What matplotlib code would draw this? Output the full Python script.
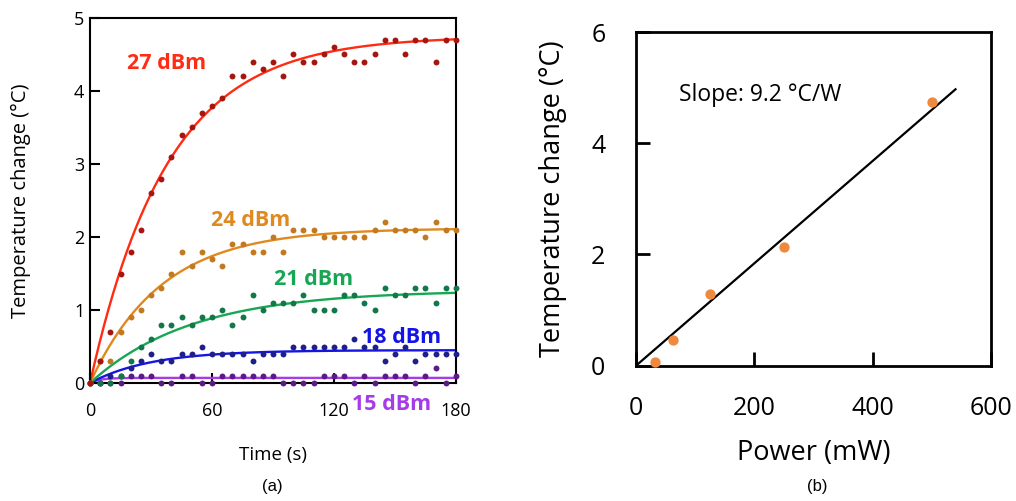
import numpy as np
import matplotlib
matplotlib.use("Agg")
import matplotlib.pyplot as plt

plt.rcParams['font.family'] = ['Open Sans', 'DejaVu Sans']

# ---- panel (a): temperature change vs time, sampled every 5 s ----
time_s = list(range(0, 181, 5))

temp_27 = [0, 0.3, 0.7, 1.5, 1.8, 2.1, 2.6, 2.8, 3.1, 3.4, 3.5, 3.7, 3.8, 3.9, 4.2, 4.2,
           4.4, 4.3, 4.4, 4.2, 4.5, 4.4, 4.4, 4.5, 4.6, 4.5, 4.4, 4.4, 4.5, 4.7, 4.7,
           4.5, 4.7, 4.7, 4.4, 4.7, 4.7]
temp_24 = [0, 0.3, 0.3, 0.7, 0.9, 1.0, 1.2, 1.3, 1.5, 1.8, 1.6, 1.8, 1.7, 1.6, 1.9, 1.9,
           1.8, 1.8, 2.0, 1.8, 2.1, 2.1, 2.1, 2.0, 2.0, 2.0, 2.0, 2.0, 2.1, 2.2, 2.1,
           2.1, 2.1, 2.0, 2.2, 2.1, 2.1]
temp_21 = [0, 0, 0, 0.1, 0.3, 0.5, 0.6, 0.8, 0.8, 0.9, 0.8, 0.9, 0.9, 1.0, 0.8, 0.9,
           1.2, 1.0, 1.1, 1.1, 1.1, 1.2, 1.0, 1.0, 1.0, 1.2, 1.2, 1.1, 1.0, 1.3, 1.2,
           1.2, 1.3, 1.3, 1.1, 1.3, 1.3]
temp_18 = [0, 0, 0.1, 0.1, 0.2, 0.3, 0.4, 0.3, 0.3, 0.4, 0.4, 0.5, 0.4, 0.4, 0.4, 0.4,
           0.3, 0.4, 0.4, 0.4, 0.5, 0.5, 0.5, 0.5, 0.5, 0.5, 0.6, 0.5, 0.5, 0.3, 0.4,
           0.5, 0.3, 0.4, 0.4, 0.4, 0.4]
temp_15 = [0, 0, 0, 0, 0.1, 0.1, 0.1, 0, 0, 0.1, 0.1, 0, 0, 0.1, 0.1, 0.1,
           0.1, 0.1, 0.1, 0, 0, 0, 0, 0.1, 0.1, 0.1, 0, 0.1, 0, 0.1, 0.1,
           0.1, 0, 0.1, 0.2, 0, 0.1]

# exponential fits: amplitude (degC) and time constant (s)
labels = ['15 dBm', '18 dBm', '21 dBm', '24 dBm', '27 dBm']
fit_amp = [0.07, 0.45, 1.27, 2.12, 4.75]
fit_tau = [5, 30, 50, 35, 38]

# ---- panel (b): temperature change vs power ----
power_mw = [32, 63, 125, 250, 500]
temp_b = [0.07, 0.46, 1.28, 2.13, 4.74]
fit_power = [0, 540]
fit_temp = [0, 4.97]

series = [temp_15, temp_18, temp_21, temp_24, temp_27]
line_colors = ['#A63CE8', '#1414E6', '#17A653', '#E0891E', '#FF2B12']
dot_colors = ['#5B1A86', '#1F1F8C', '#14774A', '#C27A22', '#A4160F']
label_pos = [(129, -0.30), (134, 0.63), (90.7, 1.42), (59.7, 2.23), (18.2, 4.38)]

fig = plt.figure(figsize=(10.16, 5.01), dpi=100)

ax = fig.add_axes([0.0886, 0.2355, 0.3602, 0.7286])
t_fine = np.linspace(0, 180, 400)
for i in range(5):
    ax.scatter(time_s, series[i], s=18, color=dot_colors[i], zorder=3 + i * 0.1,
               linewidths=0, clip_on=False)
    ax.plot(t_fine, fit_amp[i] * (1 - np.exp(-t_fine / fit_tau[i])),
            color=line_colors[i], lw=1.7, zorder=2)
    ax.text(label_pos[i][0], label_pos[i][1], labels[i], color=line_colors[i],
            fontsize=15.5, fontweight='bold', ha='left', va='center', clip_on=False)

ax.set_xlim(0, 180)
ax.set_ylim(0, 5)
ax.set_xticks([0, 60, 120, 180])
ax.set_yticks([0, 1, 2, 3, 4, 5])
ax.tick_params(direction='in', length=7, width=1.5, labelsize=13)
ax.tick_params(axis='x', pad=14)
ax.tick_params(axis='y', pad=4)
for sp in ax.spines.values():
    sp.set_linewidth(1.5)
ax.set_xlabel('Time (s)', fontsize=13.5)
ax.set_ylabel('Temperature change (°C)', fontsize=14.5)
ax.xaxis.set_label_coords(0.5, -0.173)
ax.yaxis.set_label_coords(-0.16, 0.5)

ax2 = fig.add_axes([0.626, 0.2701, 0.3494, 0.666])
ax2.plot(fit_power, fit_temp, color='black', lw=1.6, zorder=2)
ax2.scatter(power_mw, temp_b, s=55, color='#EE8A3F', linewidths=0, zorder=3, clip_on=False)
ax2.text(73, 4.87, 'Slope: 9.2 °C/W', fontsize=16.5, ha='left', va='center')
ax2.set_xlim(0, 600)
ax2.set_ylim(0, 6)
ax2.set_xticks([0, 200, 400, 600])
ax2.set_yticks([0, 2, 4, 6])
ax2.tick_params(direction='in', length=10, width=2, labelsize=18, pad=22)
for sp in ax2.spines.values():
    sp.set_linewidth(2)
ax2.set_xlabel('Power (mW)', fontsize=19.5)
ax2.set_ylabel('Temperature change (°C)', fontsize=19.5)
ax2.xaxis.set_label_coords(0.5, -0.22)
ax2.yaxis.set_label_coords(-0.195, 0.5)

fig.text(272 / 1016, 1 - 487 / 501, '(a)', fontsize=12, ha='center', va='center',
         family=['Liberation Sans'])
fig.text(817 / 1016, 1 - 487 / 501, '(b)', fontsize=12, ha='center', va='center',
         family=['Liberation Sans'])

fig.savefig('out.png', dpi=100)
